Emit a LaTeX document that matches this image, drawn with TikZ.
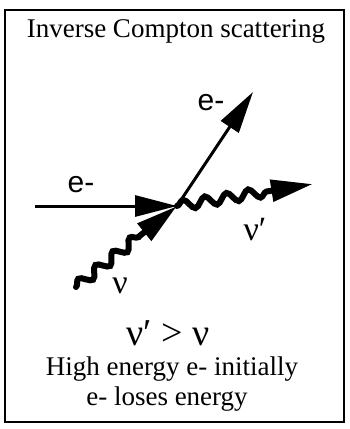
\documentclass[tikz,border=0pt]{standalone}
\usepackage{fontspec}
\setmainfont{Liberation Serif}
\newfontfamily\labelfont{Liberation Sans}
\usetikzlibrary{arrows.meta, positioning, decorations.pathmorphing}

\tikzset{
  bigtip/.style={-{Triangle[length=21pt, width=10.5pt]}},
  electron/.style={line width=1.5pt, bigtip},
  photon/.style={line width=3pt, line cap=round, bigtip, decorate,
    decoration={snake, amplitude=2.5pt, segment length=11pt, post length=20pt}},
  elabel/.style={font=\labelfont\fontsize{15}{17}\selectfont},
  nulabel/.style={font=\fontsize{17}{20}\selectfont},
  textline/.style={anchor=base, font=\fontsize{13.5}{16}\selectfont}
}

\begin{document}
\begin{tikzpicture}[x=0.5pt, y=-0.5pt]
\useasboundingbox (0,0) rectangle (349,429);
% Frame
\draw[line width=1pt] (5,10) rectangle (344,422);

\node[textline] (title) at (176,37) {Inverse Compton scattering};

% Scattering point and free ends
\coordinate (hit) at (177,206);
\coordinate (ein) at (35,206);
\coordinate (eout) at (253,92);
\coordinate (nuin) at (76,287);
\coordinate (nuout) at (313,184);

% Electron
\draw[electron] (ein) -- (hit);
\draw[electron] (hit) -- (eout);
\node[elabel] (einlab) at (81,185) {e-};
\node[elabel] (eoutlab) at (211,103) {e-};

% Photon
\draw[photon] (nuin) -- (hit);
\draw[photon] (hit) -- (nuout);
\node[nulabel] (nuinlab) at (120,286) {ν};
\node[nulabel] (nuoutlab) at (255,230) {ν′};

% Result
\node[anchor=base, font=\fontsize{19}{22}\selectfont] (rel) at (168,345) {ν′ > ν};
\node[textline] (line1) at (172,375) {High energy e- initially};
\node[textline] (line2) at (167,405) {e- loses energy};
\end{tikzpicture}
\end{document}
